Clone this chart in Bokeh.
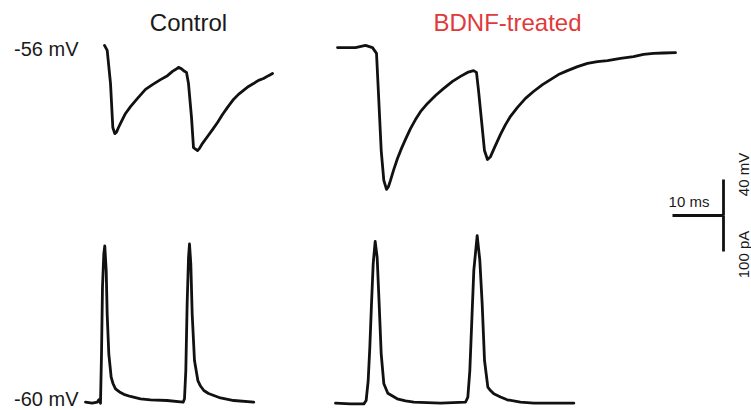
import numpy as np
from bokeh.plotting import figure
from bokeh.models import Range1d
from bokeh.core.properties import value
from bokeh.embed import file_html
from bokeh.resources import INLINE

# ---------------- data ----------------
# Top traces: current (pA) vs time (ms) from trace start
ctrl_top_t = [0, 0.53, 1.18, 1.63, 2.02, 2.35, 2.75, 3.33, 4.12, 5.10, 6.47, 8.04,
              9.41, 10.98, 12.35, 13.33, 13.92, 14.51, 15.10, 15.69, 16.08, 16.47,
              17.06, 17.45, 18.24, 18.63, 19.22, 20.20, 21.18, 22.16, 23.14, 24.12,
              25.29, 26.27, 27.25, 28.24, 29.22, 30.20, 31.18, 32.16, 32.94]
ctrl_top_i = [3, -11, -103, -225, -242, -238, -225, -208, -186, -167, -144, -119,
              -106, -92, -81, -69, -64, -58, -62, -69, -72, -103,
              -197, -281, -289, -283, -269, -250, -231, -211, -189, -169,
              -147, -133, -122, -111, -103, -94, -89, -81, -75]

bdnf_top_t = [0, 3.53, 5.49, 6.86, 7.65, 8.10, 8.57, 9.08, 9.61, 10.00, 10.39, 10.98,
              11.76, 12.55, 13.33, 14.31, 15.29, 16.27, 17.65, 19.22, 20.78, 22.55,
              24.12, 25.49, 26.67, 27.25, 27.65, 28.24, 28.82, 29.41, 30.00, 30.78,
              31.96, 32.94, 33.92, 35.29, 36.86, 38.43, 40.20, 41.76, 43.33, 45.10,
              47.06, 49.02, 50.98, 52.94, 55.49, 58.04, 60.00, 61.96, 63.92, 66.27]
bdnf_top_i = [-3, -3, 3, -3, -19, -150, -289, -372, -397, -389, -372, -344,
              -311, -283, -258, -228, -203, -181, -158, -136, -117, -97,
              -83, -72, -67, -72, -122, -206, -289, -314, -306, -281,
              -244, -217, -194, -169, -144, -125, -106, -92, -78, -67,
              -56, -47, -42, -39, -33, -28, -22, -19, -18, -17]

# Bottom traces: membrane potential (mV) vs time (ms) from trace start
ctrl_bot_t = [0, 1.31, 2.29, 2.61, 2.94, 3.14, 3.33, 3.59, 3.78, 4.06, 4.25, 4.57,
              5.03, 5.39, 5.88, 6.67, 7.52, 8.82, 10.78, 12.75, 16.0, 19.15,
              19.41, 19.67, 19.93, 20.2, 20.39, 20.65, 20.92, 21.37, 22.03, 22.55,
              23.2, 24.12, 25.16, 26.47, 29.08, 33.0]
ctrl_bot_v = [-60.8, -61.9, -60.8, -58.1, -61.9, -7, 67, 104, 113, 85.6, 37, -7,
              -33, -40, -46, -49.4, -52, -54.4, -57, -58.1, -58.9, -60.8,
              -57, -25.6, 48.6, 100, 115, 93, 37, -14.4, -36.7, -42.8,
              -47.8, -51.1, -53.3, -56.1, -58.9, -60.8]

bdnf_bot_t = [0, 2.94, 5.56, 6.01, 6.41, 6.73, 7.06, 7.39, 7.78, 8.17, 8.56, 8.96,
              9.48, 10.26, 11.18, 12.09, 13.73, 15.36, 20.59, 25.49, 25.95, 26.34,
              26.73, 27.12, 27.78, 28.3, 28.76, 29.22, 29.87, 30.39, 31.04, 32.35,
              33.67, 36.27, 38.89, 46.73]
bdnf_bot_v = [-61.9, -62.6, -62.6, -58.9, -36.7, 0.3, 48.6, 93, 118, 100, 48.6, -7,
              -40.3, -50.8, -53.9, -57, -59.4, -60.8, -61.9, -60.8, -55.2, -25.6,
              30, 85.6, 124.4, 96.7, 48.5, -14.4, -44.1, -47.8, -51.5, -55,
              -58.1, -60.6, -61.9, -61.9]

titles = ["Control", "BDNF-treated"]
baseline_labels = ["-56 mV", "-60 mV"]
scale_time_ms = 10
scale_v_mv = 40
scale_i_pa = 100

# ---------------- layout ----------------
W, H = 751, 410
PX_PER_MS = 5.1
PX_PER_PA = 0.36
PX_PER_MV = 0.9
PA0_PX = 46      # pixel row of 0 pA
MV60_PX = 401    # pixel row of -60 mV

def xms(px):
    return px / PX_PER_MS

def ypa(py):
    return (PA0_PX - py) / PX_PER_PA

def ymv(py):
    return -60 + (MV60_PX - py) / PX_PER_MV

p = figure(width=W, height=H, output_backend="svg", toolbar_location=None,
           x_axis_type=None, y_axis_type=None, min_border=0,
           x_range=Range1d(0, xms(W)), y_range=Range1d(ypa(H), ypa(0)))
p.extra_y_ranges = {"mv": Range1d(ymv(H), ymv(0))}
p.outline_line_color = None
p.grid.visible = False
p.background_fill_color = "white"
p.border_fill_color = "white"

LINE = "#111111"
LW = 2.8

t0_ctrl_top = xms(104)
t0_bdnf_top = xms(337)
t0_ctrl_bot = xms(85)
t0_bdnf_bot = xms(335)

common = dict(line_color=LINE, line_width=LW, line_join="round", line_cap="round")
p.line(np.array(ctrl_top_t) + t0_ctrl_top, ctrl_top_i, **common)
p.line(np.array(bdnf_top_t) + t0_bdnf_top, bdnf_top_i, **common)
p.line(np.array(ctrl_bot_t) + t0_ctrl_bot, ctrl_bot_v, y_range_name="mv", **common)
p.line(np.array(bdnf_bot_t) + t0_bdnf_bot, bdnf_bot_v, y_range_name="mv", **common)

FONT = value("Liberation Sans")
TXT = "#1a1a1a"

# titles
p.text(x=[xms(188)], y=[ypa(22)], text=[titles[0]], text_font=FONT,
       text_font_size="24px", text_color=TXT, text_align="center",
       text_baseline="middle")
p.text(x=[xms(507)], y=[ypa(22)], text=[titles[1]], text_font=FONT,
       text_font_size="24px", text_color="#e03a3a", text_align="center",
       text_baseline="middle")

# baseline labels
p.text(x=[xms(78)], y=[ypa(48)], text=[baseline_labels[0]], text_font=FONT,
       text_font_size="20px", text_color=TXT, text_align="right",
       text_baseline="middle")
p.text(x=[xms(78)], y=[ymv(398)], text=[baseline_labels[1]], text_font=FONT,
       text_font_size="20px", text_color=TXT, text_align="right",
       text_baseline="middle", y_range_name="mv")

# scale bar
sx = xms(723)
sy_pa = ypa(215)
sy_mv = ymv(215)
bar = dict(line_color=LINE, line_width=2.8)
p.line([sx - scale_time_ms, sx], [sy_pa, sy_pa], **bar)
p.line([sx, sx], [sy_pa, sy_pa - scale_i_pa], **bar)
p.line([sx, sx], [sy_mv, sy_mv + scale_v_mv], y_range_name="mv", **bar)

p.text(x=[xms(688.5)], y=[sy_pa], text=[f"{scale_time_ms} ms"],
       text_font=FONT, text_font_size="15px", text_color=TXT,
       text_align="center", text_baseline="bottom", y_offset=-6)
p.text(x=[xms(743)], y=[ymv(174)], text=[f"{scale_v_mv} mV"],
       text_font=FONT, text_font_size="15px", text_color=TXT,
       text_align="center", text_baseline="middle", angle=np.pi / 2,
       y_range_name="mv")
p.text(x=[xms(743)], y=[ypa(254)], text=[f"{scale_i_pa} pA"],
       text_font=FONT, text_font_size="15px", text_color=TXT,
       text_align="center", text_baseline="middle", angle=np.pi / 2)

open("out.html", "w").write(file_html(p, INLINE))
